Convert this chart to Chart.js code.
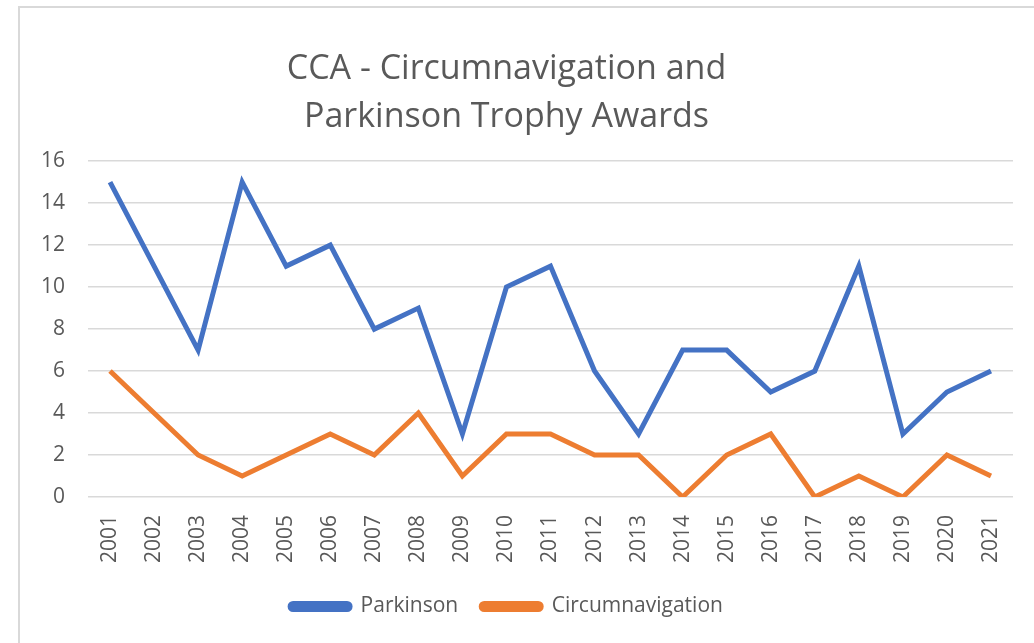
<!DOCTYPE html>
<html>
<head>
<meta charset="utf-8">
<script src="https://cdn.jsdelivr.net/npm/chart.js@4/dist/chart.umd.min.js"></script>
<style>
    html, body { margin: 0; padding: 0; background: #fff; }
    #wrap { position: relative; width: 1034px; height: 643px; }
    #frame { position: absolute; left: 18px; top: 6px; width: 1030px; height: 650px;
             border: 2px solid #d9d9d9; box-sizing: border-box; pointer-events: none; }
    canvas { position: absolute; left: 0; top: 0; }
</style>
</head>
<body>
<div id="wrap">
    <canvas id="chart" width="1034" height="643"></canvas>
    <div id="frame"></div>
</div>
<script>
const years = ['2001', '2002', '2003', '2004', '2005', '2006', '2007', '2008', '2009', '2010',
    '2011', '2012', '2013', '2014', '2015', '2016', '2017', '2018', '2019', '2020', '2021'];
const parkinson = [15, 11, 7, 15, 11, 12, 8, 9, 3, 10, 11, 6, 3, 7, 7, 5, 6, 11, 3, 5, 6];
const circumnavigation = [6, 4, 2, 1, 2, 3, 2, 4, 1, 3, 3, 2, 2, 0, 2, 3, 0, 1, 0, 2, 1];
const yTicks = [0, 2, 4, 6, 8, 10, 12, 14, 16];

const textColor = '#595959';
const gridColor = '#d9d9d9';
const fontFamily = '"Open Sans", "Noto Sans", sans-serif';

Chart.defaults.font.family = fontFamily;
Chart.defaults.color = textColor;

function lineSet(label, data, color) {
    return {
        label: label,
        data: data,
        borderColor: color,
        backgroundColor: color,
        borderWidth: 5,
        pointRadius: 0,
        pointHoverRadius: 0,
        tension: 0,
        fill: false,
    };
}

new Chart(document.getElementById('chart'), {
    type: 'line',
    data: {
        labels: years,
        datasets: [
            lineSet('Parkinson', parkinson, '#4472c4'),
            lineSet('Circumnavigation', circumnavigation, '#ed7d31'),
        ]
    },
    options: {
        responsive: false,
        animation: false,
        layout: {
            padding: { top: 46, left: 0, right: 21, bottom: 16 }
        },
        plugins: {
            title: {
                display: true,
                text: ['CCA - Circumnavigation and', 'Parkinson Trophy Awards'],
                color: textColor,
                font: { size: 34, weight: 'normal', lineHeight: 1.4 },
                padding: { top: 0, bottom: 20 },
            },
            legend: {
                position: 'bottom',
                labels: {
                    boxWidth: 60,
                    boxHeight: 6,
                    useBorderRadius: true,
                    borderRadius: 3,
                    padding: 23,
                    color: textColor,
                    font: { size: 21 },
                }
            },
            tooltip: { enabled: false },
        },
        scales: {
            x: {
                offset: true,
                grid: { display: false },
                border: { display: false },
                ticks: {
                    minRotation: 90,
                    maxRotation: 90,
                    autoSkip: false,
                    padding: 10,
                    font: { size: 21 },
                    color: textColor,
                }
            },
            y: {
                min: 0,
                max: 16,
                afterBuildTicks: function (axis) {
                    axis.ticks = yTicks.map(v => ({ value: v }));
                },
                afterFit: function (axis) {
                    axis.width = 88;
                },
                grid: {
                    color: gridColor,
                    lineWidth: 1.5,
                    drawTicks: false,
                },
                border: { display: false },
                ticks: {
                    padding: 23,
                    font: { size: 21 },
                    color: textColor,
                }
            }
        }
    }
});
</script>
</body>
</html>
